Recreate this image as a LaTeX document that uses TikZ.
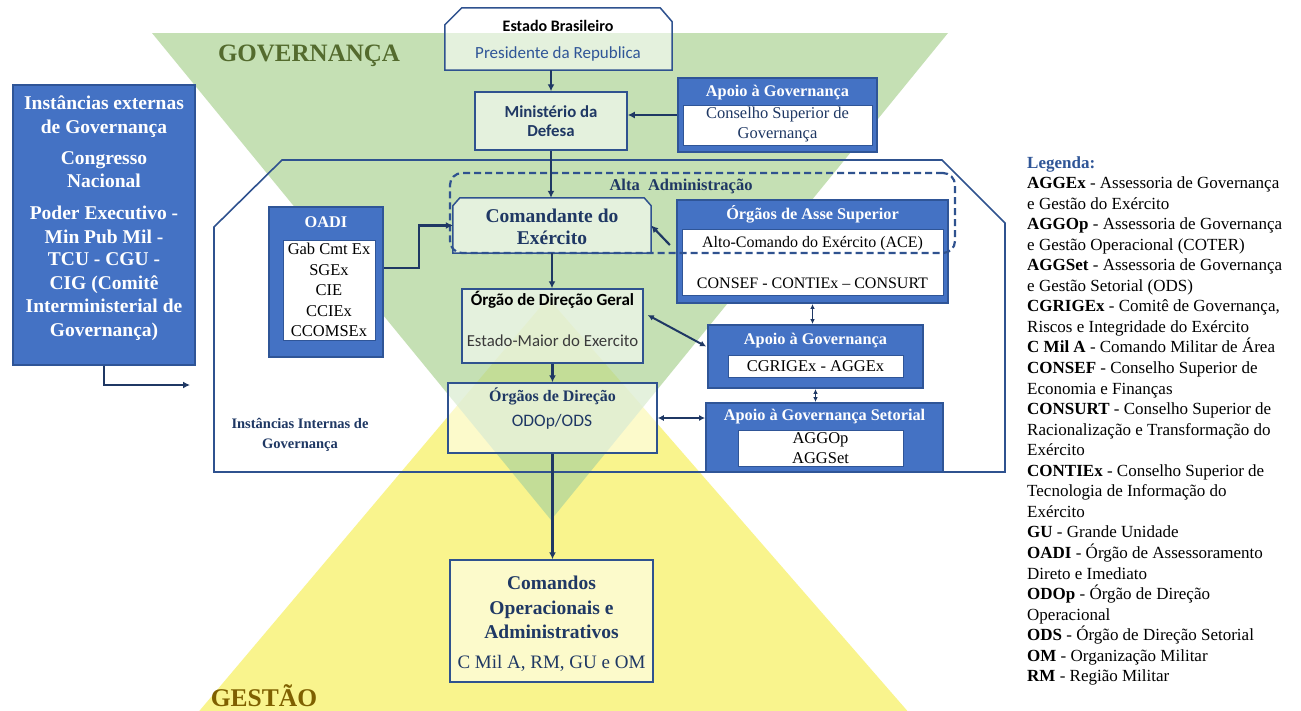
\documentclass[tikz,border=0pt]{standalone}
\usepackage{fontspec}
\setmainfont{Liberation Serif}
\newfontfamily\calfont{Carlito}
\usetikzlibrary{arrows.meta,calc}
\definecolor{navy}{HTML}{1F3864}
\definecolor{boxblue}{HTML}{4472C4}
\definecolor{boxedge}{HTML}{2F5597}
\definecolor{framec}{HTML}{2F528F}
\definecolor{govgreen}{HTML}{B2D69B}
\definecolor{gesyellow}{HTML}{F9F48D}
\definecolor{govtext}{HTML}{546B2E}
\definecolor{gestext}{HTML}{7F6000}
\definecolor{legblue}{HTML}{2F5597}
\definecolor{txtgray}{HTML}{3A3A3A}
\newcommand{\fs}[2]{\fontsize{#1}{#2}\selectfont}
\begin{document}
\begin{tikzpicture}[x=1pt,y=-1pt,
  bluebox/.style={draw=boxedge, line width=1.8pt, fill=boxblue, inner sep=0pt},
  whitebox/.style={draw=boxedge, line width=1pt, fill=white, inner sep=0pt, align=center},
  palebox/.style={draw=framec, line width=1.5pt, fill=white, fill opacity=0.55, text opacity=1, inner sep=0pt, align=center},
  shapebox/.style={draw=framec, line width=1.5pt, fill=white, fill opacity=0.55},
  txtnode/.style={inner sep=0pt, align=center},
  title/.style={inner sep=0pt, text=white, font=\bfseries\fs{16.3}{19}},
  arr/.style={draw=navy, line width=2.2pt, -{Latex[length=7pt,width=7pt]}},
  darr/.style={draw=navy, line width=2pt, {Latex[length=6pt,width=6pt]}-{Latex[length=6pt,width=6pt]}},
  thinarr/.style={draw=navy, line width=1.1pt, {Latex[length=5pt,width=4.5pt]}-{Latex[length=5pt,width=4.5pt]}},
  dashbox/.style={draw=framec, line width=2.2pt, dash pattern=on 7pt off 4pt, rounded corners=12pt, inner sep=0pt},
  legend/.style={inner sep=0pt, anchor=base west, text=black, font=\fs{17}{20}},
  extline/.style={inner sep=0pt, anchor=base, text=white, font=\bfseries\fs{19.5}{23}}
]
\useasboundingbox (0,0) rectangle (1301,710);
\clip (0,0) rectangle (1301,710);
\fill[white] (0,0) rectangle (1301,710);

% background triangles
\fill[gesyellow] (548,298) -- (190,722) -- (917,722) -- cycle;
\fill[govgreen, fill opacity=0.75] (152,33) -- (948,33) -- (551,520) -- cycle;

\node[inner sep=0pt, anchor=base, text=govtext, font=\bfseries\fs{25}{28}] (gov) at (309,61) {GOVERNANÇA};
\node[inner sep=0pt, anchor=base, text=gestext, font=\bfseries\fs{25.5}{28}] (ges) at (264,706) {GESTÃO};

% internal instances frame
\draw[draw=framec, line width=1.6pt] (214,472) -- (214,227) -- (282,160) -- (942,160) -- (1005,223) -- (1005,472) -- cycle;
\node[txtnode, font=\bfseries\fs{14.5}{20}, text=navy] (intl) at (300,435) {Instâncias Internas de\\Governança};

% Estado Brasileiro
\node[inner sep=0pt, minimum width=227pt, minimum height=62pt] (est) at (558.5,39) {};
\path[shapebox] (est.south west) -- ($(est.north west)+(0,17)$) -- ($(est.north west)+(17,0)$) -- ($(est.north east)+(-12,0)$) -- ($(est.north east)+(0,14)$) -- (est.south east) -- cycle;
\node[txtnode, font=\calfont\bfseries\fs{16}{18}, text=black] (estT) at (558,26) {Estado Brasileiro};
\node[txtnode, font=\calfont\fs{17}{18}, text=boxedge] (presT) at (558,54) {Presidente da Republica};

% Ministerio da Defesa
\node[palebox, minimum width=152pt, minimum height=58pt, font=\calfont\bfseries\fs{16.8}{19}, text=navy] (min) at (551,121) {Ministério da\\Defesa};

% Apoio a Governanca (top)
\node[bluebox, minimum width=199pt, minimum height=74pt] (apg) at (777.5,115) {};
\node[title] (apgT) at (777.5,93) {Apoio à Governança};
\node[whitebox, minimum width=189pt, minimum height=40pt, font=\fs{16.5}{20}, text=navy] (apgI) at (777.5,125) {Conselho Superior de\\Governança};

% Comandante do Exercito
\node[inner sep=0pt, minimum width=198pt, minimum height=55pt] (cmd) at (552,225.5) {};
\path[shapebox] (cmd.south west) -- ($(cmd.north west)+(0,8)$) -- ($(cmd.north west)+(7,0)$) -- ($(cmd.north east)+(-7,0)$) -- ($(cmd.north east)+(0,8)$) -- (cmd.south east) -- cycle;
\node[txtnode, font=\bfseries\fs{19.5}{22}, text=navy] (cmdT) at (552,227) {Comandante do\\Exército};

% Orgaos de Asse Superior
\node[bluebox, minimum width=271pt, minimum height=103pt] (asse) at (812.5,251.5) {};
\node[title] (asseT) at (812.5,214) {Órgãos de Asse Superior};
\node[whitebox, minimum width=261pt, minimum height=66pt] (asseI) at (812.5,262) {};
\node[txtnode, font=\fs{16}{19}, text=black] (ace) at (812.5,244) {Alto-Comando do Exército (ACE)};
\node[txtnode, font=\fs{16}{19}, text=black] (cons) at (812.5,283) {CONSEF - CONTIEx – CONSURT};

% Alta Administracao dashed
\node[dashbox, minimum width=505pt, minimum height=80pt] (alta) at (702.5,213) {};
\node[txtnode, font=\bfseries\fs{16.5}{19}, text=navy] (altaT) at (681,186) {Alta\ \ Administração};

% OADI
\node[bluebox, minimum width=114pt, minimum height=150pt] (oadi) at (326,282) {};
\node[title] (oadiT) at (326,222) {OADI};
\node[whitebox, minimum width=92pt, minimum height=100pt, font=\fs{16.5}{20.5}, text=black] (oadiI) at (329,290) {Gab Cmt Ex\\SGEx\\CIE\\CCIEx\\CCOMSEx};

% Orgao de Direcao Geral
\node[palebox, minimum width=181pt, minimum height=74pt] (odg) at (552.5,326) {};
\node[txtnode, font=\calfont\bfseries\fs{17}{18}, text=black] (odgT) at (552.5,300) {Órgão de Direção Geral};
\node[txtnode, font=\calfont\fs{16.8}{18}, text=txtgray] (emeT) at (552.5,341) {Estado-Maior do Exercito};

% Orgaos de Direcao
\node[palebox, minimum width=209pt, minimum height=70pt] (od) at (552.5,418) {};
\node[txtnode, font=\bfseries\fs{16}{19}, text=navy] (odT) at (552.5,396) {Órgãos de Direção};
\node[txtnode, font=\calfont\fs{17.5}{18}, text=navy] (odsT) at (552,422) {ODOp/ODS};

% Apoio a Governanca (middle)
\node[bluebox, minimum width=215pt, minimum height=63pt] (apm) at (815.5,356.5) {};
\node[title] (apmT) at (815.5,341) {Apoio à Governança};
\node[whitebox, minimum width=175pt, minimum height=22pt, font=\fs{16.5}{20}, text=black] (apmI) at (815.5,366) {CGRIGEx - AGGEx};

% Apoio a Governanca Setorial
\node[bluebox, minimum width=237pt, minimum height=69pt] (set) at (824.5,437.5) {};
\node[title] (setT) at (824.5,417) {Apoio à Governança Setorial};
\node[whitebox, minimum width=165pt, minimum height=36pt, font=\fs{16.5}{20.5}, text=black] (setI) at (820.5,448) {AGGOp\\AGGSet};

% Comandos Operacionais
\node[palebox, minimum width=203pt, minimum height=122pt] (com) at (551.5,621) {};
\node[txtnode, font=\bfseries\fs{19.5}{24.5}, text=navy] (comT) at (551.5,607.5) {Comandos\\Operacionais e\\Administrativos};
\node[txtnode, font=\fs{19}{22}, text=navy] (comS) at (551.5,663) {C Mil A, RM, GU e OM};

% External instances
\node[bluebox, minimum width=182pt, minimum height=280pt] (ext) at (104,225) {};
\foreach \yy/\txt [count=\i] in {103/{Instâncias externas}, 127/{de Governança}, 158/{Congresso}, 181/{Nacional}, 213/{Poder Executivo -}, 237/{Min Pub Mil -}, 259/{TCU - CGU -}, 283/{CIG (Comitê}, 306/{Interministerial de}, 330/{Governança)}}
  \node[extline] (ext\i) at (104,\yy+6.5) {\txt};
\coordinate (extEnd) at (190,385);

% connectors
\draw[arr] (est.south -| min.north) -- (min.north);
\draw[arr] (min.south) -- (min.south |- cmd.north);
\draw[arr] (apg.west) -- (apg.west -| min.east);
\draw[arr, shorten <=9pt] (asse.west) -- (cmd.east);
\draw[arr] ($(oadi.east)+(0,-14)$) -- ++(35,0) |- (cmd.west);
\draw[arr] (cmd.south) -- (cmd.south |- odg.north);
\draw[arr] (odg.south) -- (odg.south |- od.north);
\draw[arr] (od.south) -- (od.south |- com.north);
\draw[darr] ($(odg.east)+(4,-11)$) -- ($(apm.west)+(-1,-10)$);
\draw[thinarr] (asse.south) -- (asse.south |- apm.north);
\draw[thinarr] (apm.south) -- (apm.south |- set.north);
\draw[darr] (od.east) -- (od.east -| set.west);
\draw[arr] (ext.south) |- (extEnd);

% legend
\foreach \txt [count=\i from 0] in {
  {\textcolor{legblue}{\textbf{Legenda:}}},
  {\textbf{AGGEx} - Assessoria de Governança},
  {e Gestão do Exército},
  {\textbf{AGGOp} - Assessoria de Governança},
  {e Gestão Operacional (COTER)},
  {\textbf{AGGSet} - Assessoria de Governança},
  {e Gestão Setorial (ODS)},
  {\textbf{CGRIGEx} - Comitê de Governança,},
  {Riscos e Integridade do Exército},
  {\textbf{C Mil A} - Comando Militar de Área},
  {\textbf{CONSEF} - Conselho Superior de},
  {Economia e Finanças},
  {\textbf{CONSURT} - Conselho Superior de},
  {Racionalização e Transformação do},
  {Exército},
  {\textbf{CONTIEx} - Conselho Superior de},
  {Tecnologia de Informação do},
  {Exército},
  {\textbf{GU} - Grande Unidade},
  {\textbf{OADI} - Órgão de Assessoramento},
  {Direto e Imediato},
  {\textbf{ODOp} - Órgão de Direção},
  {Operacional},
  {\textbf{ODS} - Órgão de Direção Setorial},
  {\textbf{OM} - Organização Militar},
  {\textbf{RM} - Região Militar}}
  \node[legend] (leg\i) at (1027,168+20.55*\i) {\txt};
\end{tikzpicture}
\end{document}
